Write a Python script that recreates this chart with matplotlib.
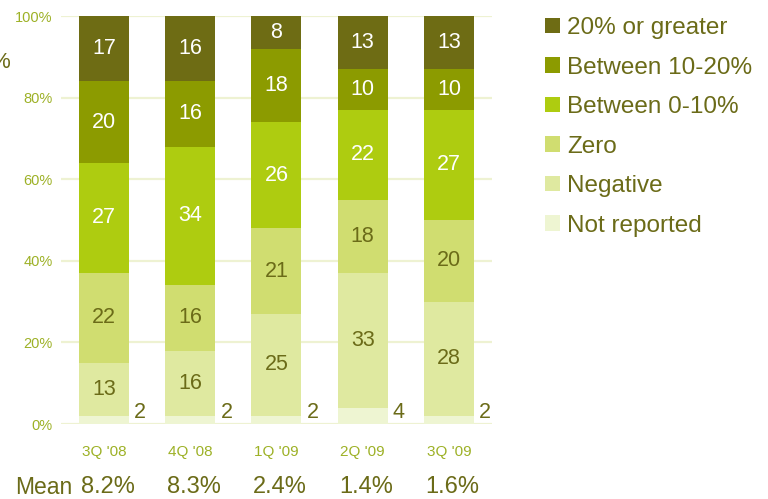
import numpy as np
import matplotlib.pyplot as plt
from matplotlib.patches import Patch
from matplotlib.transforms import blended_transform_factory

plt.rcParams['font.family'] = ['Liberation Sans', 'DejaVu Sans']

quarters = ["3Q '08", "4Q '08", "1Q '09", "2Q '09", "3Q '09"]
means = ["8.2%", "8.3%", "2.4%", "1.4%", "1.6%"]

# stacked from the bottom up
not_reported = [2, 2, 2, 4, 2]
negative = [13, 16, 25, 33, 28]
zero = [22, 16, 21, 18, 20]
btw_0_10 = [27, 34, 26, 22, 27]
btw_10_20 = [20, 16, 18, 10, 10]
over_20 = [17, 16, 8, 13, 13]

series = [
    ("Not reported", not_reported, "#eef5d2", "#6b6b18"),
    ("Negative", negative, "#dfe9a0", "#6b6b18"),
    ("Zero", zero, "#d0dd70", "#6b6b18"),
    ("Between 0-10%", btw_0_10, "#aecc10", "white"),
    ("Between 10-20%", btw_10_20, "#8c9b00", "white"),
    ("20% or greater", over_20, "#6e6c14", "white"),
]

dark = "#6b6b18"
tick_green = "#9db126"
grid_col = "#eef2d2"

fig = plt.figure(figsize=(7.68, 4.99), dpi=100)
ax = fig.add_axes([0.0794, 0.1503, 0.5612, 0.8176])

x = np.arange(len(quarters))
bw = 0.58
bottom = np.zeros(len(quarters))
for name, vals, col, txt in series:
    vals = np.array(vals, dtype=float)
    ax.bar(x, vals, bw, bottom=bottom, color=col, zorder=2)
    for i, v in enumerate(vals):
        if name == "Not reported":
            # small values sit beside the bar
            ax.text(x[i] + bw / 2 + 0.06, 1.5, f"{v:.0f}", ha="left",
                    va="baseline", color=dark, fontsize=15.5)
        else:
            mid = (bottom[i] + min(bottom[i] + v, 100)) / 2
            ax.text(x[i], mid, f"{v:.0f}", ha="center", va="center",
                    color=txt, fontsize=15.5)
    bottom += vals

ax.set_xlim(-0.5, len(quarters) - 0.5)
ax.set_ylim(0, 100)
ax.set_yticks(np.arange(0, 101, 20))
ax.set_yticklabels([f"{t}%" for t in range(0, 101, 20)])
ax.set_xticks(x)
ax.set_xticklabels(quarters)
ax.tick_params(axis="y", length=0, pad=6, labelsize=10.5, labelcolor=tick_green)
ax.tick_params(axis="x", length=0, pad=15, labelsize=11, labelcolor=tick_green)
ax.grid(axis="y", color=grid_col, linewidth=1.6, zorder=0)
ax.set_axisbelow(True)
for s in ax.spines.values():
    s.set_visible(False)

# mean row under the quarter labels
tr = blended_transform_factory(ax.transData, fig.transFigure)
for i, m in enumerate(means):
    ax.text(x[i] + 0.04, 0.024, m, transform=tr, ha="center", va="center",
            color=dark, fontsize=17)
fig.text(72 / 768, 0.024, "Mean", ha="right", va="center", color=dark, fontsize=16.5)

fig.text(0.0, 1 - 62 / 499, "%", ha="center", va="center", color=dark, fontsize=16)

handles = [Patch(facecolor=col, edgecolor="none", label=name)
           for name, vals, col, txt in reversed(series)]
leg = fig.legend(handles=handles, loc="upper left",
                 bbox_to_anchor=(528 / 768, 1.0), frameon=False,
                 fontsize=17.5, handlelength=0.62, handleheight=0.62,
                 handletextpad=0.3, labelspacing=0.72, borderaxespad=0.3)
for t in leg.get_texts():
    t.set_color(dark)

fig.savefig("out.png", dpi=100)
